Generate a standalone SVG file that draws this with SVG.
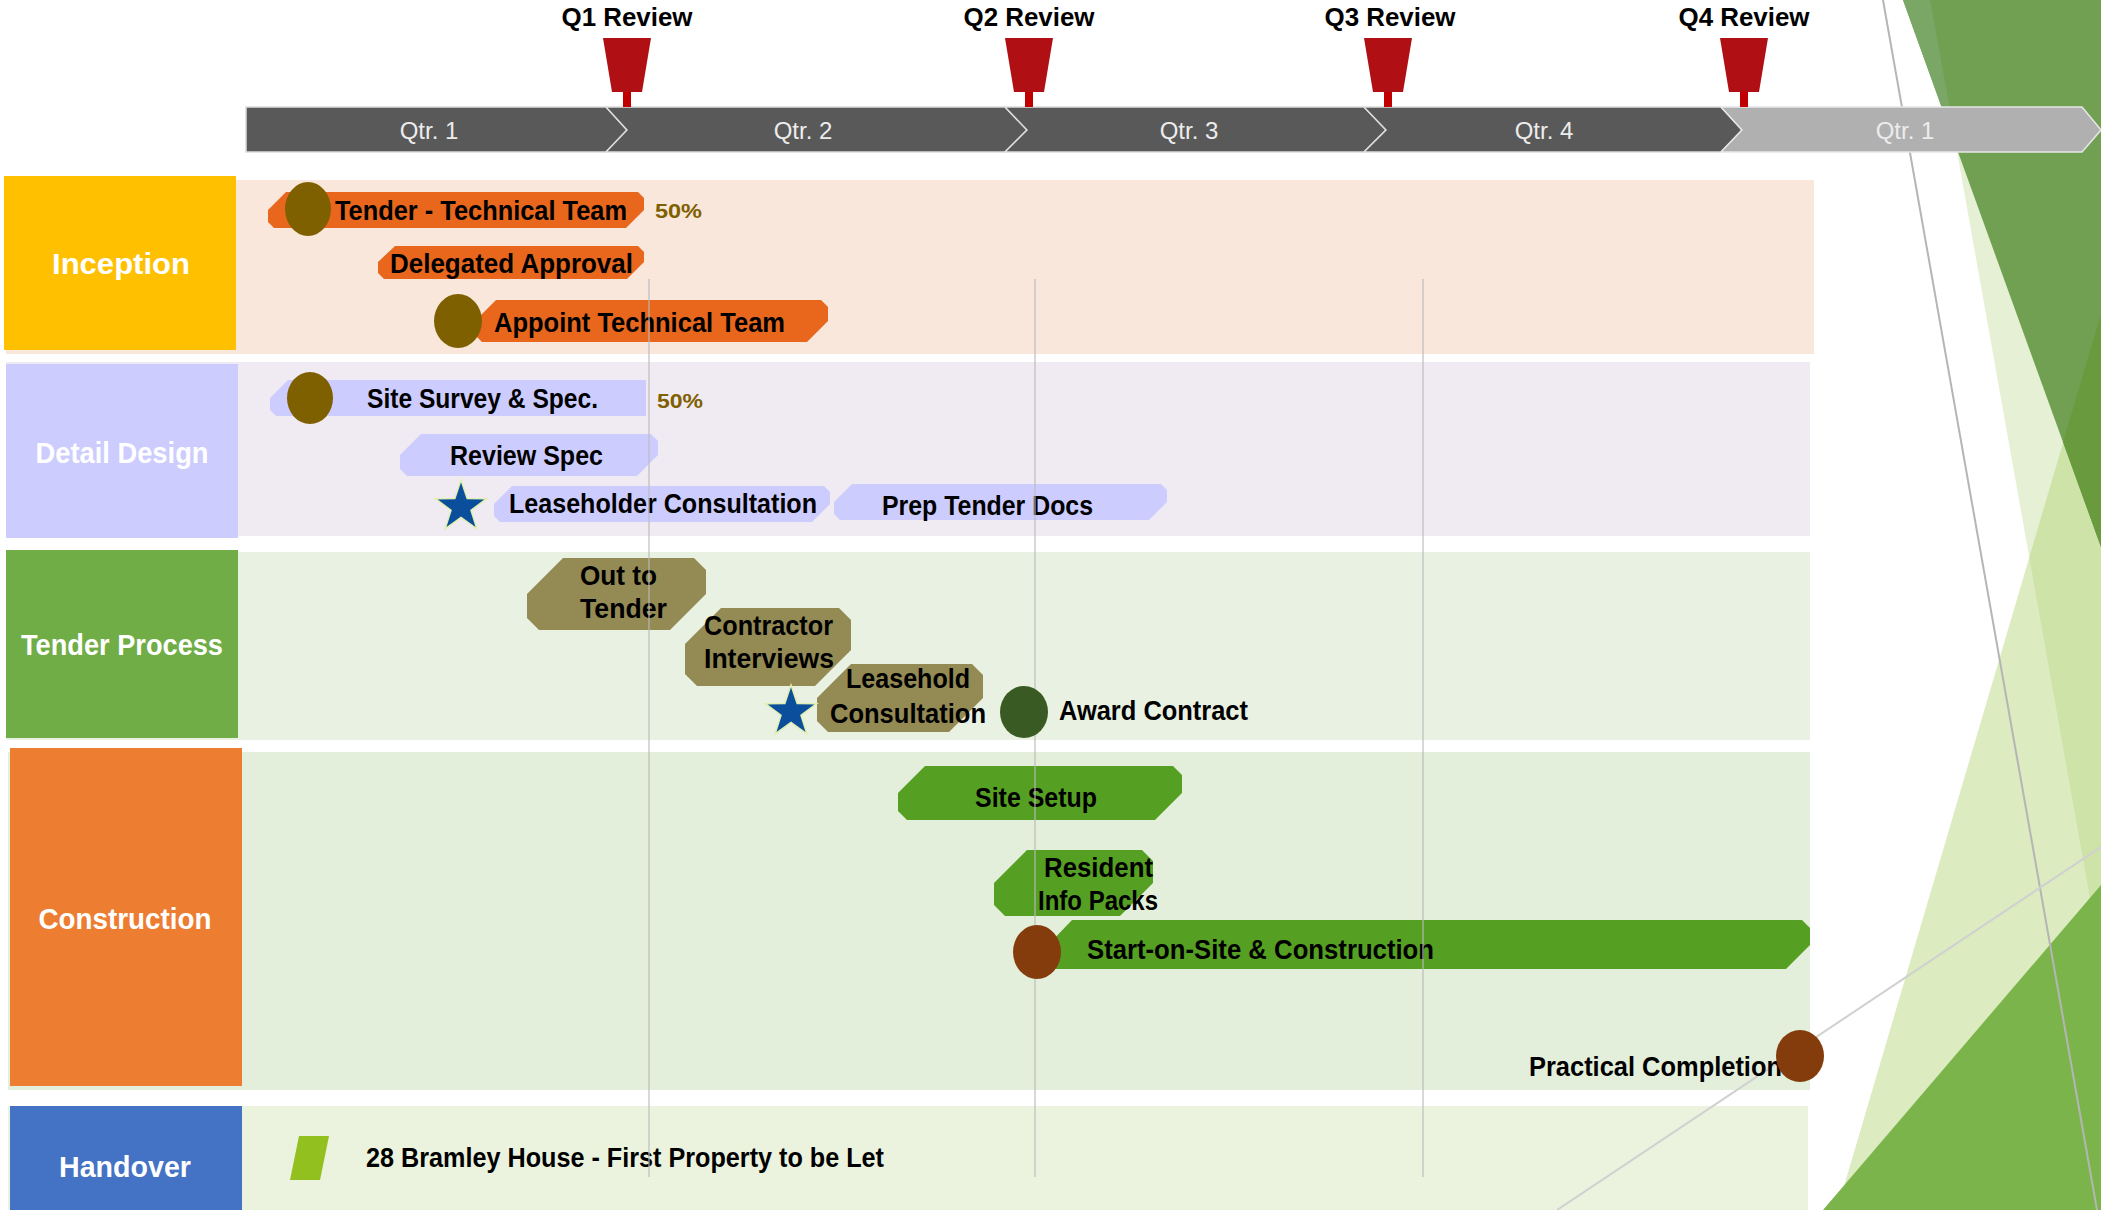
<svg xmlns="http://www.w3.org/2000/svg" xmlns:xlink="http://www.w3.org/1999/xlink" width="2101" height="1210" viewBox="0 0 2101 1210">
<style>
  text { font-family: "Liberation Sans", Arial, sans-serif; }
  .t { font-weight: bold; font-size: 27.5px; fill: #000; }
  .pct { font-weight: bold; font-size: 21px; fill: #7F6000; }
  .lbl { font-weight: bold; font-size: 29px; fill: #fff; text-anchor: middle; }
  .qtr { font-size: 24px; fill: #ececec; text-anchor: middle; }
  .rev { font-weight: bold; font-size: 25px; fill: #000; text-anchor: middle; }
  .org { fill: #E8671C; }
  .lav { fill: #CCCCFF; }
  .tan { fill: #948A54; }
  .grn { fill: #55A022; }
  .olive { fill: #7F6000; }
  .brown { fill: #843C0C; }
  .dkg { fill: #3A5A24; }
  .seg { fill: #595959; stroke: #dcdcdc; stroke-width: 1.5; }
  .seg2 { fill: #b0b0b0; stroke: #e6e6e6; stroke-width: 1.5; }
  .flag { fill: #B00F14; }
  .stem { fill: #C00000; }
  .grid { stroke: #b9b9b9; stroke-width: 1.5; stroke-opacity: 0.75; }
  .star { fill: #0B4F9C; stroke: #E2EFB0; stroke-width: 1.5; }
</style>
<defs>
  <path id="star" d="M0,-27 L6.17,-8.49 L25.68,-8.34 L9.99,3.24 L15.87,21.84 L0,10.5 L-15.87,21.84 L-9.99,3.24 L-25.68,-8.34 L-6.17,-8.49 Z"/>
</defs>
<rect x="0" y="0" width="2101" height="1210" fill="#ffffff"/>

<!-- background decoration -->
<g id="decoration">
  <polygon points="1930,0 2101,0 2101,960" fill="#E6F0D4"/>
  <polygon points="2101,314 2101,1210 1837,1210" fill="#B1D373" fill-opacity="0.45"/>
  <polygon points="1903,0 2101,0 2101,547" fill="#72A052"/>
  <polygon points="1903,0 1930,0 1958,153" fill="#7AA766"/>
  <polygon points="2063,442 2101,314 2101,547" fill="#699A3E"/>
  <polygon points="1823,1210 2101,885 2101,1210" fill="#7CB44C"/>
  <line x1="1883" y1="0" x2="2097" y2="1210" stroke="#b5b5b5" stroke-width="2"/>
</g>

<!-- timeline -->
<g id="timeline">
  <polygon class="seg" points="246,107 606,107 627,130 606,152 246,152"/>
  <polygon class="seg" points="606,107 1005,107 1027,130 1005,152 606,152 627,130"/>
  <polygon class="seg" points="1005,107 1364,107 1386,130 1364,152 1005,152 1027,130"/>
  <polygon class="seg" points="1364,107 1721,107 1742,130 1721,152 1364,152 1386,130"/>
  <polygon class="seg2" points="1721,107 2082,107 2101,130 2082,152 1721,152 1742,130"/>
  <text class="qtr" x="429" y="139">Qtr. 1</text>
  <text class="qtr" x="803" y="139">Qtr. 2</text>
  <text class="qtr" x="1189" y="139">Qtr. 3</text>
  <text class="qtr" x="1544" y="139">Qtr. 4</text>
  <text class="qtr" x="1905" y="139" fill="#eeeeee">Qtr. 1</text>
</g>

<g id="q1-review">
  <polygon class="flag" points="603,38 651,38 642,92 612,92"/>
  <rect class="stem" x="623" y="92" width="8" height="15"/>
  <text class="rev" x="627" y="26" textLength="131" lengthAdjust="spacingAndGlyphs">Q1 Review</text>
</g>
<g id="q2-review">
  <polygon class="flag" points="1005,38 1053,38 1044,92 1014,92"/>
  <rect class="stem" x="1025" y="92" width="8" height="15"/>
  <text class="rev" x="1029" y="26" textLength="131" lengthAdjust="spacingAndGlyphs">Q2 Review</text>
</g>
<g id="q3-review">
  <polygon class="flag" points="1364,38 1412,38 1403,92 1373,92"/>
  <rect class="stem" x="1384" y="92" width="8" height="15"/>
  <text class="rev" x="1390" y="26" textLength="131" lengthAdjust="spacingAndGlyphs">Q3 Review</text>
</g>
<g id="q4-review">
  <polygon class="flag" points="1720,38 1768,38 1759,92 1729,92"/>
  <rect class="stem" x="1740" y="92" width="8" height="15"/>
  <text class="rev" x="1744" y="26" textLength="131" lengthAdjust="spacingAndGlyphs">Q4 Review</text>
</g>

<!-- swimlanes -->
<g id="lane-inception">
  <rect x="6" y="180" width="1808" height="174" fill="#F9E7DC"/>
  <rect x="4" y="176" width="232" height="174" fill="#FFC000"/>
  <text class="lbl" x="121" y="274" textLength="138" lengthAdjust="spacingAndGlyphs">Inception</text>
</g>
<g id="lane-detail-design">
  <rect x="6" y="362" width="1804" height="174" fill="#F0EBF2"/>
  <rect x="6" y="364" width="232" height="174" fill="#CCCCFF"/>
  <text class="lbl" x="122" y="463" textLength="173" lengthAdjust="spacingAndGlyphs">Detail Design</text>
</g>
<g id="lane-tender-process">
  <rect x="6" y="552" width="1804" height="188" fill="#E9F1E2"/>
  <rect x="6" y="550" width="232" height="188" fill="#70AD47"/>
  <text class="lbl" x="122" y="655" textLength="202" lengthAdjust="spacingAndGlyphs">Tender Process</text>
</g>
<g id="lane-construction">
  <rect x="8" y="752" width="1802" height="338" fill="#E4EFDB"/>
  <rect x="10" y="748" width="232" height="338" fill="#ED7D31"/>
  <text class="lbl" x="125" y="929" textLength="173" lengthAdjust="spacingAndGlyphs">Construction</text>
</g>
<g id="lane-handover">
  <rect x="8" y="1106" width="1800" height="104" fill="#EBF3DE"/>
  <rect x="10" y="1106" width="232" height="104" fill="#4472C4"/>
  <text class="lbl" x="125" y="1177" textLength="132" lengthAdjust="spacingAndGlyphs">Handover</text>
</g>

<line x1="1557" y1="1210" x2="2101" y2="847" stroke="#d0d0d0" stroke-width="2"/>

<!-- tasks -->
<g id="task-tender-technical-team">
  <polygon class="org" points="286,192 638,192 644,198 644,210 626,228 274,228 268,222 268,210"/>
  <text class="t" x="335" y="220" font-size="28.5" textLength="292" lengthAdjust="spacingAndGlyphs">Tender - Technical Team</text>
  <text class="pct" x="655" y="218" textLength="47" lengthAdjust="spacingAndGlyphs">50%</text>
</g>
<g id="task-delegated-approval">
  <polygon class="org" points="395,246 638,246 644,252 644,262 627,279 384,279 378,273 378,262"/>
  <text class="t" x="390" y="273" textLength="243" lengthAdjust="spacingAndGlyphs">Delegated Approval</text>
</g>
<g id="task-appoint-technical-team">
  <polygon class="org" points="496,300 821,300 828,307 828,321 807,342 482,342 475,335 475,321"/>
  <text class="t" x="494" y="332" font-size="28.5" textLength="291" lengthAdjust="spacingAndGlyphs">Appoint Technical Team</text>
</g>
<g id="task-site-survey">
  <polygon class="lav" points="288,380 646,380 646,416 276,416 270,410 270,398"/>
  <text class="t" x="367" y="408" textLength="231" lengthAdjust="spacingAndGlyphs">Site Survey &amp; Spec.</text>
  <text class="pct" x="657" y="408" textLength="46" lengthAdjust="spacingAndGlyphs">50%</text>
</g>
<g id="task-review-spec">
  <polygon class="lav" points="421,434 651,434 658,441 658,455 637,476 407,476 400,469 400,455"/>
  <text class="t" x="450" y="465" textLength="153" lengthAdjust="spacingAndGlyphs">Review Spec</text>
</g>
<g id="task-leaseholder-consultation">
  <polygon class="lav" points="512,486 824,486 830,492 830,504 812,522 500,522 494,516 494,504"/>
  <text class="t" x="509" y="513" textLength="308" lengthAdjust="spacingAndGlyphs">Leaseholder Consultation</text>
</g>
<g id="task-prep-tender-docs">
  <polygon class="lav" points="852,484 1161,484 1167,490 1167,502 1149,520 840,520 834,514 834,502"/>
  <text class="t" x="882" y="515" textLength="211" lengthAdjust="spacingAndGlyphs">Prep Tender Docs</text>
</g>
<g id="task-out-to-tender">
  <polygon class="tan" points="563,558 694,558 706,570 706,594 670,630 539,630 527,618 527,594"/>
  <text class="t" x="580" y="585" textLength="77" lengthAdjust="spacingAndGlyphs">Out to</text>
  <text class="t" x="580" y="618" textLength="87" lengthAdjust="spacingAndGlyphs">Tender</text>
</g>
<g id="task-contractor-interviews">
  <polygon class="tan" points="721,608 839,608 851,620 851,650 815,686 697,686 685,674 685,644"/>
  <text class="t" x="704" y="635" textLength="129" lengthAdjust="spacingAndGlyphs">Contractor</text>
  <text class="t" x="704" y="668" textLength="130" lengthAdjust="spacingAndGlyphs">Interviews</text>
</g>
<g id="task-leasehold-consultation">
  <polygon class="tan" points="851,664 972,664 983,675 983,698 949,732 828,732 817,721 817,698"/>
  <text class="t" x="846" y="688" textLength="124" lengthAdjust="spacingAndGlyphs">Leasehold</text>
  <text class="t" x="830" y="723" textLength="156" lengthAdjust="spacingAndGlyphs">Consultation</text>
</g>
<g id="task-site-setup">
  <polygon class="grn" points="925,766 1173,766 1182,775 1182,793 1155,820 907,820 898,811 898,793"/>
  <text class="t" x="975" y="807" textLength="122" lengthAdjust="spacingAndGlyphs">Site Setup</text>
</g>
<g id="task-resident-info-packs">
  <polygon class="grn" points="1027,850 1142,850 1153,861 1153,883 1120,916 1005,916 994,905 994,883"/>
  <text class="t" x="1044" y="877" textLength="109" lengthAdjust="spacingAndGlyphs">Resident</text>
  <text class="t" x="1038" y="910" textLength="120" lengthAdjust="spacingAndGlyphs">Info Packs</text>
</g>
<g id="task-start-on-site">
  <polygon class="grn" points="1072,920 1802,920 1810,928 1810,945 1786,969 1056,969 1048,961 1048,945"/>
  <text class="t" x="1087" y="959" textLength="347" lengthAdjust="spacingAndGlyphs">Start-on-Site &amp; Construction</text>
</g>
<g id="milestone-award-contract-label">
  <text class="t" x="1059" y="720" textLength="189" lengthAdjust="spacingAndGlyphs">Award Contract</text>
</g>
<g id="milestone-practical-completion-label">
  <text class="t" x="1529" y="1076" textLength="253" lengthAdjust="spacingAndGlyphs">Practical Completion</text>
</g>
<g id="handover-first-property">
  <polygon points="299,1136 329,1136 320,1180 290,1180" fill="#92C01F"/>
  <text class="t" x="366" y="1167" textLength="518" lengthAdjust="spacingAndGlyphs">28 Bramley House - First Property to be Let</text>
</g>

<!-- quarter gridlines -->
<g id="gridlines">
  <line class="grid" x1="649" y1="279" x2="649" y2="1177"/>
  <line class="grid" x1="1035" y1="279" x2="1035" y2="1177"/>
  <line class="grid" x1="1423" y1="279" x2="1423" y2="1177"/>
</g>

<!-- milestones -->
<g id="ms-tender-technical-team"><ellipse class="olive" cx="308" cy="209" rx="23" ry="27"/></g>
<g id="ms-appoint-technical-team"><ellipse class="olive" cx="458" cy="321" rx="24" ry="27"/></g>
<g id="ms-site-survey"><ellipse class="olive" cx="310" cy="398" rx="23" ry="26"/></g>
<g id="ms-star-leaseholder"><use xlink:href="#star" href="#star" class="star" x="461" y="507"/></g>
<g id="ms-star-leasehold"><use xlink:href="#star" href="#star" class="star" x="791" y="712"/></g>
<g id="ms-award-contract"><ellipse class="dkg" cx="1024" cy="712" rx="24" ry="26"/></g>
<g id="ms-start-on-site"><ellipse class="brown" cx="1037" cy="952" rx="24" ry="27"/></g>
<g id="ms-practical-completion"><ellipse class="brown" cx="1800" cy="1056" rx="24" ry="26"/></g>

<g id="connectors"></g>
</svg>
